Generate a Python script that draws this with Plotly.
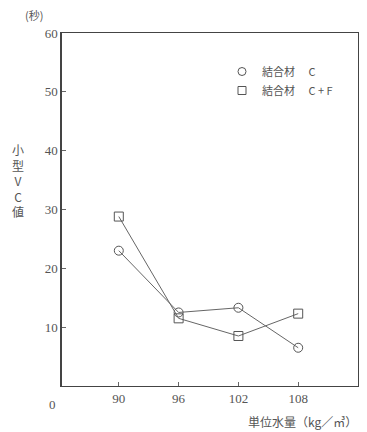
import plotly.graph_objects as go

water = [90, 96, 102, 108]
vc_c = [23, 12.5, 13.3, 6.5]
vc_cf = [28.8, 11.5, 8.5, 12.3]
y_ticks = [10, 20, 30, 40, 50, 60]
x_ticks = [90, 96, 102, 108]
legend_names = ["結合材　 C", "結合材　 C + F"]

ink = "#555555"
serif = "Liberation Serif, DejaVu Serif, serif"
cjk = "Noto Sans CJK JP, sans-serif"

fig = go.Figure()
fig.add_trace(go.Scatter(x=water, y=vc_c, mode="lines+markers", showlegend=False,
                         line=dict(color="#666666", width=1),
                         marker=dict(symbol="circle-open", size=9, color="#555555", line=dict(width=1))))
fig.add_trace(go.Scatter(x=water, y=vc_cf, mode="lines+markers", showlegend=False,
                         line=dict(color="#666666", width=1),
                         marker=dict(symbol="square-open", size=9, color="#555555", line=dict(width=1))))
# legend-only entries (markers only, like the reference)
fig.add_trace(go.Scatter(x=[None], y=[None], mode="markers", name=legend_names[0],
                         marker=dict(symbol="circle-open", size=8, color="#555555", line=dict(width=1))))
fig.add_trace(go.Scatter(x=[None], y=[None], mode="markers", name=legend_names[1],
                         marker=dict(symbol="square-open", size=8, color="#555555", line=dict(width=1))))

# page body has an 8px margin; work in window pixels and shift
OFF = 8
W, H = 367 - OFF, 432 - OFF
l, r, t, b = 62 - OFF, 9, 33 - OFF, 46
pw, ph = W - l - r, H - t - b

def px(x):
    return (x - OFF - l) / pw

def py(y):
    return 1 - (y - OFF - t) / ph

fig.update_layout(
    width=W, height=H,
    margin=dict(l=l, r=r, t=t, b=b, autoexpand=False),
    paper_bgcolor="white", plot_bgcolor="white",
    font=dict(family=serif, color=ink, size=13),
    showlegend=True,
    legend=dict(x=px(222), y=py(57), xanchor="left", yanchor="top",
                bgcolor="rgba(0,0,0,0)", font=dict(family=cjk, size=11, color=ink),
                itemwidth=30, tracegroupgap=2),
    xaxis=dict(range=[84.3, 114], tickvals=x_ticks, ticks="inside", ticklen=4,
               showgrid=False, zeroline=False, showline=True, linecolor="#444", linewidth=1.2,
               mirror=True, tickfont=dict(family=serif, size=13, color=ink), tickcolor="#666"),
    yaxis=dict(range=[0, 60], tickvals=y_ticks, ticks="inside", ticklen=4,
               showgrid=False, zeroline=False, showline=True, linecolor="#444", linewidth=1.5,
               mirror=True, tickfont=dict(family=serif, size=13, color=ink), tickcolor="#666"),
)

ann = [
    ("(秒)", 34, 15, cjk, 11),
    ("小<br>型<br>V<br>C<br>値", 18, 180, cjk, 12),
    ("0", 52, 404, serif, 13),
    ("単位水量（kg／㎥）", 302, 421, cjk, 12),
]
for text, x, y, fam, sz in ann:
    fig.add_annotation(text=text, xref="paper", yref="paper", x=px(x), y=py(y),
                       xanchor="center", yanchor="middle", showarrow=False,
                       font=dict(family=fam, size=sz, color=ink))

fig.write_html("out.html")
